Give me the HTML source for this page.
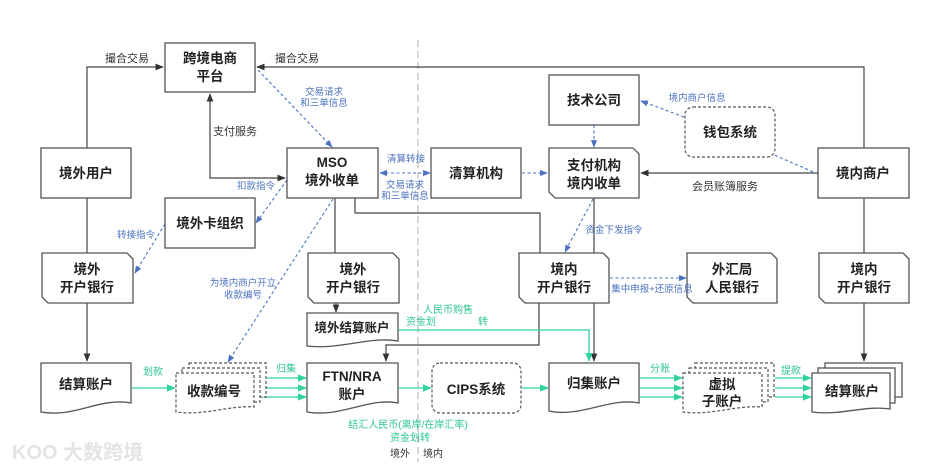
<!DOCTYPE html>
<html><head><meta charset="utf-8"><style>
html,body{margin:0;padding:0;background:#fff;}
svg{display:block;font-family:"Liberation Sans","Noto Sans CJK SC",sans-serif;}
.b{fill:#fff;stroke:#555;stroke-width:1.3;}
.d{fill:#fff;stroke:#555;stroke-width:1.2;stroke-dasharray:3 2;}
.t{font-size:13.5px;font-weight:bold;fill:#222;text-anchor:middle;}
.l{stroke:#444;stroke-width:1.2;fill:none;}
.bl{stroke:#4a72c0;stroke-width:1.1;fill:none;stroke-dasharray:3 2.5;}
.g{stroke:#2fd39b;stroke-width:1.3;fill:none;}
.lb{font-size:11px;fill:#333;}
.lbb{font-size:9.5px;fill:#4a72c0;text-anchor:middle;}
.lg{font-size:10px;fill:#2fc495;text-anchor:middle;}
</style></head><body>
<svg width="945" height="468" viewBox="0 0 945 468">
<defs>
<marker id="ak" viewBox="0 0 10 10" refX="9" refY="5" markerWidth="7" markerHeight="7" orient="auto-start-reverse"><path d="M0,1 L10,5 L0,9z" fill="#333"/></marker>
<marker id="ab" viewBox="0 0 10 10" refX="9" refY="5" markerWidth="7" markerHeight="7" orient="auto-start-reverse"><path d="M0,1 L10,5 L0,9z" fill="#4a72c0"/></marker>
<marker id="ag" viewBox="0 0 10 10" refX="9" refY="5" markerWidth="7" markerHeight="7" orient="auto-start-reverse"><path d="M0,1 L10,5 L0,9z" fill="#2fd39b"/></marker>
</defs>
<!-- divider -->
<line x1="418" y1="40" x2="418" y2="462" stroke="#bbb" stroke-width="1.2" stroke-dasharray="7 4"/>

<!-- black connectors -->
<path class="l" d="M87,148 V67 H163" marker-end="url(#ak)"/>
<path class="l" d="M864,148 V67 H257" marker-end="url(#ak)"/>
<path class="l" d="M210,94 V178 H285" marker-start="url(#ak)" marker-end="url(#ak)"/>
<path class="l" d="M87,198 V253"/>
<path class="l" d="M87,303 V361" marker-end="url(#ak)"/>
<path class="l" d="M335,198 V253"/>
<path class="l" d="M336,303 V312" marker-end="url(#ak)"/>
<path class="l" d="M355,198 V213 H540 V253"/>
<path class="l" d="M539,303 V345 H386 V361" marker-end="url(#ak)"/>
<path class="l" d="M594,198 V361" marker-end="url(#ak)"/>
<path class="l" d="M818,173 H641" marker-end="url(#ak)"/>
<path class="l" d="M864,198 V253"/>
<path class="l" d="M864,303 V361" marker-end="url(#ak)"/>

<!-- blue dashed -->
<path class="bl" d="M258,70 L332,147" marker-end="url(#ab)"/>
<path class="bl" d="M287,180 L256,223" marker-end="url(#ab)"/>
<path class="bl" d="M165,224 L135,273" marker-end="url(#ab)"/>
<path class="bl" d="M333,199 L228,362" marker-end="url(#ab)"/>
<path class="bl" d="M380,173 H430" marker-start="url(#ab)" marker-end="url(#ab)"/>
<path class="bl" d="M522,173 H547" marker-end="url(#ab)"/>
<path class="bl" d="M594,125 V147" marker-end="url(#ab)"/>
<path class="bl" d="M684,117 L641,101" marker-end="url(#ab)"/>
<path class="bl" d="M818,174 L772,154"/>
<path class="bl" d="M593,199 L565,252" marker-end="url(#ab)"/>
<path class="bl" d="M610,278 H686" marker-end="url(#ab)"/>

<!-- green -->
<path class="g" d="M399,330 H589 V361" marker-end="url(#ag)"/>
<path class="g" d="M132,388 H175" marker-end="url(#ag)"/>
<path class="g" d="M267,378 H306 M262,388 H306 M262,397 H306"/>
<path class="g" d="M296,378 H306" marker-end="url(#ag)"/><path class="g" d="M296,388 H306" marker-end="url(#ag)"/><path class="g" d="M296,397 H306" marker-end="url(#ag)"/>
<path class="g" d="M399,388 H431" marker-end="url(#ag)"/>
<path class="g" d="M522,388 H548" marker-end="url(#ag)"/>
<path class="g" d="M640,378 H682" marker-end="url(#ag)"/><path class="g" d="M640,388 H682" marker-end="url(#ag)"/><path class="g" d="M640,397 H682" marker-end="url(#ag)"/>
<path class="g" d="M775,378 H811" marker-end="url(#ag)"/><path class="g" d="M775,388 H811" marker-end="url(#ag)"/><path class="g" d="M775,397 H811" marker-end="url(#ag)"/>

<!-- boxes -->
<rect class="b" x="165" y="43" width="90" height="49"/>
<text class="t" x="210" y="63">跨境电商</text><text class="t" x="210" y="81">平台</text>
<rect class="b" x="41" y="148" width="90" height="50"/><text class="t" x="86" y="178">境外用户</text>
<rect class="b" x="287" y="148" width="91" height="50"/>
<text class="t" x="332" y="167">MSO</text><text class="t" x="332" y="185">境外收单</text>
<rect class="b" x="165" y="198" width="90" height="50"/><text class="t" x="210" y="228">境外卡组织</text>
<rect class="b" x="431" y="148" width="90" height="50"/><text class="t" x="476" y="178">清算机构</text>
<rect class="b" x="549" y="75" width="90" height="50"/><text class="t" x="594" y="105">技术公司</text>
<rect class="d" x="685" y="107" width="90" height="50" rx="8"/><text class="t" x="730" y="137">钱包系统</text>
<path class="b" d="M549,148 H633 L639,154 V198 H555 L549,192 Z"/>
<text class="t" x="594" y="170">支付机构</text><text class="t" x="594" y="188">境内收单</text>
<rect class="b" x="818" y="148" width="91" height="50"/><text class="t" x="863" y="178">境内商户</text>

<path class="b" d="M42,253 H127 L133,259 V303 H48 L42,297 Z"/>
<text class="t" x="87" y="274">境外</text><text class="t" x="87" y="292">开户银行</text>
<path class="b" d="M308,253 H393 L399,259 V303 H314 L308,297 Z"/>
<text class="t" x="353" y="274">境外</text><text class="t" x="353" y="292">开户银行</text>
<path class="b" d="M519,253 H603 L609,259 V303 H525 L519,297 Z"/>
<text class="t" x="564" y="274">境内</text><text class="t" x="564" y="292">开户银行</text>
<path class="b" d="M687,253 H771 L777,259 V303 H693 L687,297 Z"/>
<text class="t" x="732" y="274">外汇局</text><text class="t" x="732" y="292">人民银行</text>
<path class="b" d="M819,253 H903 L909,259 V303 H825 L819,297 Z"/>
<text class="t" x="864" y="274">境内</text><text class="t" x="864" y="292">开户银行</text>

<path class="b" d="M307,313 H398 V341 C370,336 340,350 307,346 Z"/>
<text class="t" x="352" y="332" style="font-size:12.5px">境外结算账户</text>

<path class="b" d="M41,363 H131 V403 C100,397 75,418 41,412 Z"/>
<text class="t" x="86" y="389">结算账户</text>
<path class="d" d="M189,363 H266 V397 H189 Z"/>
<path class="d" d="M182,368 H260 V402 H182 Z"/>
<path class="d" d="M176,373 H254 V407 C230,405 205,416 176,412 Z"/>
<text class="t" x="214" y="396">收款编号</text>
<path class="b" d="M307,363 H398 V403 C370,397 340,418 307,412 Z"/>
<text class="t" x="352" y="381">FTN/NRA</text><text class="t" x="352" y="399">账户</text>
<rect class="d" x="432" y="363" width="89" height="50" rx="8"/><text class="t" x="476" y="394">CIPS系统</text>
<path class="b" d="M549,363 H639 V403 C610,397 580,418 549,411 Z"/>
<text class="t" x="594" y="388">归集账户</text>
<path class="d" d="M695,363 H774 V397 H695 Z"/>
<path class="d" d="M689,368 H768 V402 H689 Z"/>
<path class="d" d="M683,373 H762 V407 C735,405 710,416 683,412 Z"/>
<text class="t" x="722" y="389">虚拟</text><text class="t" x="722" y="406">子账户</text>
<rect class="b" x="825" y="363" width="77" height="34"/>
<rect class="b" x="818" y="368" width="77" height="35"/>
<path class="b" d="M812,373 H890 V409 C865,405 840,416 812,412 Z"/>
<text class="t" x="852" y="396">结算账户</text>

<!-- labels -->
<text class="lb" x="105" y="62">撮合交易</text>
<text class="lb" x="275" y="62">撮合交易</text>
<text class="lb" x="213" y="135">支付服务</text>
<text class="lb" x="692" y="190">会员账簿服务</text>
<text class="lbb" x="324" y="95">交易请求</text><text class="lbb" x="324" y="106">和三单信息</text>
<text class="lbb" x="256" y="189">扣款指令</text>
<text class="lbb" x="136" y="238">转接指令</text>
<text class="lbb" x="243" y="286">为境内商户开立</text><text class="lbb" x="243" y="298">收款编号</text>
<text class="lbb" x="406" y="162">清算转接</text>
<text class="lbb" x="405" y="188">交易请求</text><text class="lbb" x="405" y="199">和三单信息</text>
<text class="lbb" x="697" y="101">境内商户信息</text>
<text class="lbb" x="614" y="233">资金下发指令</text>
<text class="lbb" x="652" y="292">集中申报+还原信息</text>
<text class="lg" x="448" y="313">人民币购售</text>
<text class="lg" x="421" y="325">资金划</text>
<text class="lg" x="483" y="325">转</text>
<text class="lg" x="153" y="375">划款</text>
<text class="lg" x="286" y="372">归集</text>
<text class="lg" x="660" y="372">分账</text>
<text class="lg" x="791" y="374">提款</text>
<text class="lg" x="408" y="428">结汇人民币(离岸/在岸汇率)</text>
<text class="lg" x="410" y="441">资金划转</text>
<text class="lb" x="390" y="457" style="font-size:10px">境外</text>
<text class="lb" x="423" y="457" style="font-size:10px">境内</text>
<text x="12" y="459" style="font-size:20px;font-weight:bold;fill:#e4e4e4">KOO 大数跨境</text>
</svg>
</body></html>
